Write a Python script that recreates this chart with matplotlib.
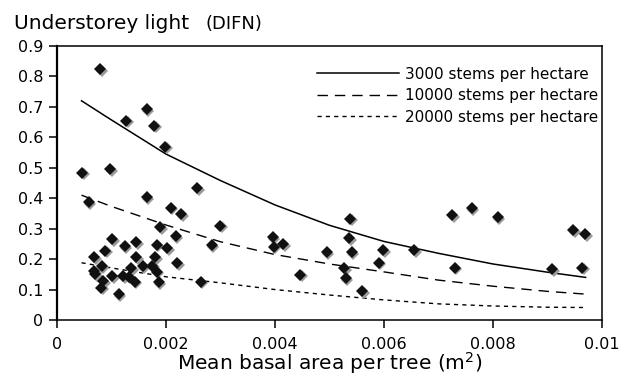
import matplotlib
matplotlib.use("Agg")
import matplotlib.pyplot as plt
from matplotlib.transforms import offset_copy

# ---- data ----
obs_x = [0.00079, 0.00046, 0.00058, 0.00098, 0.00127, 0.00165, 0.00178, 0.00199,
         0.00165, 0.00209, 0.00228, 0.00257, 0.00300, 0.00189, 0.00218, 0.00284,
         0.00101, 0.00068, 0.00089, 0.00124, 0.00145, 0.00183, 0.00202, 0.00145,
         0.00180, 0.00157, 0.00175, 0.00221, 0.00183, 0.00187, 0.00264, 0.00082,
         0.00070, 0.00085, 0.00081, 0.00113, 0.00101, 0.00122, 0.00136, 0.00132,
         0.00143, 0.00068, 0.00396, 0.00398, 0.00415, 0.00446, 0.00538, 0.00536,
         0.00495, 0.00541, 0.00599, 0.00656, 0.00590, 0.00527, 0.00530, 0.00560,
         0.00725, 0.00730, 0.00761, 0.00809, 0.00947, 0.00969, 0.00909, 0.00964]
obs_y = [0.824, 0.484, 0.387, 0.496, 0.654, 0.692, 0.638, 0.569,
         0.403, 0.369, 0.348, 0.433, 0.310, 0.305, 0.275, 0.246,
         0.266, 0.206, 0.227, 0.242, 0.256, 0.247, 0.236, 0.207,
         0.207, 0.177, 0.178, 0.187, 0.158, 0.124, 0.126, 0.177,
         0.150, 0.128, 0.106, 0.084, 0.144, 0.144, 0.170, 0.142,
         0.126, 0.160, 0.271, 0.241, 0.249, 0.148, 0.333, 0.268,
         0.223, 0.223, 0.230, 0.230, 0.188, 0.170, 0.137, 0.095,
         0.344, 0.171, 0.367, 0.337, 0.295, 0.281, 0.166, 0.171]

curve_x = [0.00045, 0.001, 0.002, 0.003, 0.004, 0.005, 0.006, 0.007, 0.008, 0.009, 0.0097]
y_3000 = [0.720, 0.657, 0.545, 0.458, 0.378, 0.311, 0.258, 0.219, 0.184, 0.157, 0.140]
y_10000 = [0.410, 0.373, 0.312, 0.257, 0.215, 0.184, 0.158, 0.131, 0.111, 0.094, 0.085]
y_20000 = [0.188, 0.171, 0.142, 0.122, 0.100, 0.082, 0.066, 0.053, 0.046, 0.042, 0.041]

labels = ["3000 stems per hectare", "10000 stems per hectare", "20000 stems per hectare"]
xticks = [0, 0.002, 0.004, 0.006, 0.008, 0.01]
xticklabels = ["0", "0.002", "0.004", "0.006", "0.008", "0.01"]
yticks = [0, 0.1, 0.2, 0.3, 0.4, 0.5, 0.6, 0.7, 0.8, 0.9]
yticklabels = ["0", "0.1", "0.2", "0.3", "0.4", "0.5", "0.6", "0.7", "0.8", "0.9"]

plt.rcParams['font.family'] = ['DejaVu Sans']

fig = plt.figure(figsize=(6.29, 3.82), dpi=100)
ax = fig.add_axes([0.0906, 0.1623, 0.8664, 0.7173])

shadow = offset_copy(ax.transData, fig=fig, x=1.1, y=-1.1, units='points')
ax.plot(obs_x, obs_y, linestyle='none', marker='D', markersize=5.9,
        color='#9a9a9a', markeredgewidth=0, transform=shadow, zorder=3)
ax.plot(obs_x, obs_y, linestyle='none', marker='D', markersize=5.9,
        color='#111111', markeredgewidth=0, zorder=4)

ax.plot(curve_x, y_3000, color='black', lw=1.1, label=labels[0], zorder=2)
ax.plot(curve_x, y_10000, color='black', lw=1.0, dashes=(7.5, 5), label=labels[1], zorder=2)
ax.plot(curve_x, y_20000, color='black', lw=1.0, dashes=(3, 3), label=labels[2], zorder=2)

ax.set_xlim(0, 0.01)
ax.set_ylim(0, 0.9)
ax.set_xticks(xticks)
ax.set_xticklabels(xticklabels)
ax.set_yticks(yticks)
ax.set_yticklabels(yticklabels)
ax.tick_params(direction='out', length=6, width=1.1, labelsize=11.5,
               top=False, right=False)
ax.tick_params(axis='x', pad=6)
ax.tick_params(axis='y', pad=4)
for s in ax.spines.values():
    s.set_linewidth(1.1)
ax.spines['left'].set_linewidth(1.6)

ax.set_xlabel("Mean basal area per tree (m$^2$)", fontsize=14.5)
ax.xaxis.set_label_coords(0.5, -0.183)
ax.xaxis.label.set_va('baseline')

leg = ax.legend(loc='upper left', bbox_to_anchor=(0.477, 0.925), frameon=False,
                fontsize=11, handlelength=5.4, handletextpad=0.35, labelspacing=0.43,
                borderaxespad=0, borderpad=0)

fig.text(0.023, 0.924, "Understorey light", fontsize=14.5, ha='left', va='baseline')
fig.text(0.326, 0.924, "(DIFN)", fontsize=13, ha='left', va='baseline')

fig.savefig("out.png", dpi=100)
